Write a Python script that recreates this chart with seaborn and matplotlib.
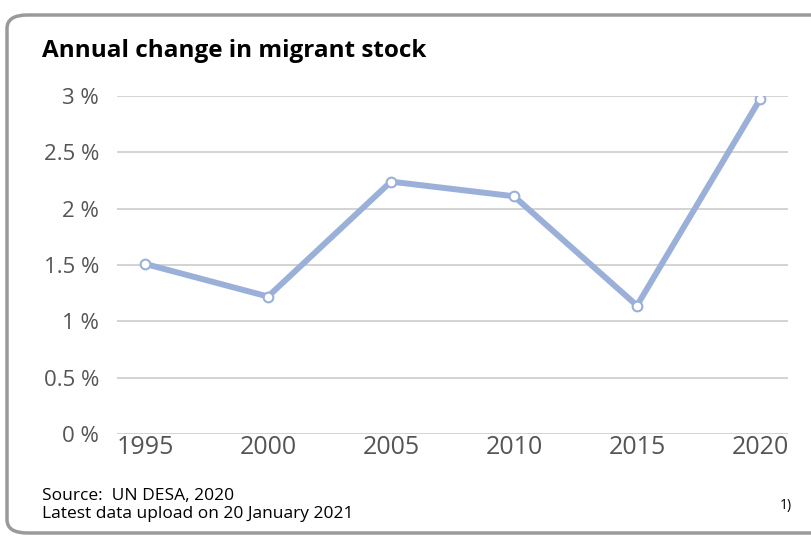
import matplotlib
matplotlib.use("Agg")
import matplotlib.pyplot as plt
from matplotlib.patches import FancyBboxPatch
import seaborn as sns
import pandas as pd

years = [1995, 2000, 2005, 2010, 2015, 2020]
change_pct = [1.51, 1.22, 2.24, 2.11, 1.14, 2.97]
y_ticks = [0, 0.5, 1, 1.5, 2, 2.5, 3]
y_labels = ["0 %", "0.5 %", "1 %", "1.5 %", "2 %", "2.5 %", "3 %"]

df = pd.DataFrame({"year": years, "change": change_pct})

sns.set_style("white")
plt.rcParams["font.family"] = ["Open Sans", "DejaVu Sans"]

fig = plt.figure(figsize=(8.12, 5.36), dpi=100)
ax = fig.add_axes([117 / 812, 1 - 434 / 536, (788 - 117) / 812, (434 - 96) / 536])

# rounded frame around the whole card
frame = FancyBboxPatch((7 / 812, 3 / 536), 1.2, (521 - 3) / 536,
                       boxstyle="round,pad=0,rounding_size=0.025",
                       transform=fig.transFigure, fill=False,
                       edgecolor="#9a9a9a", linewidth=2.5, clip_on=False)
fig.patches.append(frame)

sns.lineplot(data=df, x="year", y="change", ax=ax, color="#9bb0d8",
             linewidth=4.3, marker="o", markersize=7,
             markerfacecolor="white", markeredgecolor="#9bb0d8",
             markeredgewidth=1.5)

ax.set_xlim(1993.86, 2021.14)
ax.set_ylim(0, 3)
ax.set_yticks(y_ticks)
ax.set_yticklabels(y_labels)
ax.set_xticks(years)
ax.set_xticklabels([str(y) for y in years])
ax.tick_params(axis="x", length=0, labelsize=18, labelcolor="#555555", pad=1)
ax.tick_params(axis="y", length=0, labelsize=16, labelcolor="#555555", pad=13)
ax.grid(axis="y", color="#cccccc", linewidth=1.2)
ax.set_axisbelow(True)
ax.set_xlabel("")
ax.set_ylabel("")
for s in ax.spines.values():
    s.set_visible(False)

fig.text(42 / 812, 1 - 51 / 536, "Annual change in migrant stock",
         fontsize=17.5, fontweight="bold", color="black", va="center")
fig.text(42 / 812, 1 - 496 / 536, "Source:  UN DESA, 2020",
         fontsize=12.5, color="black", va="center")
fig.text(42 / 812, 1 - 514 / 536, "Latest data upload on 20 January 2021",
         fontsize=12.5, color="black", va="center")
fig.text(786 / 812, 1 - 505 / 536, "1)", fontsize=10, color="black",
         va="center", ha="center")

fig.savefig("out.png", dpi=100)
